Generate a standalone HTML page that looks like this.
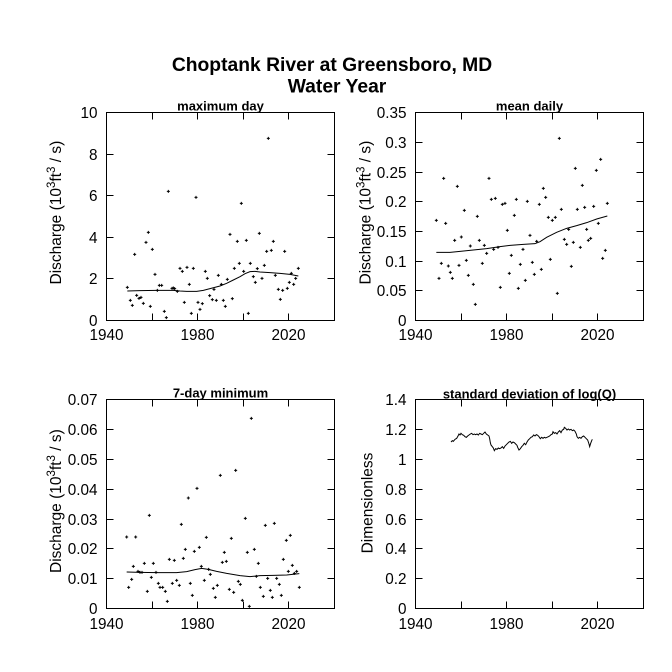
<!DOCTYPE html>
<html><head><meta charset="utf-8"><style>
html,body{margin:0;padding:0;background:#fff;}
svg{display:block;}
text{font-family:"Liberation Sans",Arial,sans-serif;fill:#000;}
.t{font-size:15.3px;}
.yl{font-size:15.5px;}
.b{font-weight:bold;}
.ax{fill:none;stroke:#000;stroke-width:1;}
.pt{fill:none;stroke:#000;stroke-width:1;}
.ln{fill:none;stroke:#000;stroke-width:1;}
</style></head><body>
<svg width="672" height="672" viewBox="0 0 672 672" xmlns="http://www.w3.org/2000/svg">
<rect x="0" y="0" width="672" height="672" fill="#fff"/>

<!-- Title -->
<text x="332" y="71" text-anchor="middle" class="b" font-size="19.3">Choptank River at Greensboro, MD</text>
<text x="337" y="92.7" text-anchor="middle" class="b" font-size="19.3">Water Year</text>

<!-- ===== Panel 1 ===== -->
<text x="220.5" y="110.3" text-anchor="middle" class="b" font-size="13">maximum day</text>
<rect class="ax" x="106.5" y="112.5" width="228" height="208"/>
<path class="ax" d="M152.5 320.5v-7M197.5 320.5v-7M243.5 320.5v-7M288.5 320.5v-7M152.5 112.5v7M197.5 112.5v7M243.5 112.5v7M288.5 112.5v7M106.5 278.5h7M106.5 237.5h7M106.5 195.5h7M106.5 154.5h7M334.5 278.5h-7M334.5 237.5h-7M334.5 195.5h-7M334.5 154.5h-7"/>
<g class="t" text-anchor="end">
<text x="97.5" y="326">0</text><text x="97.5" y="284">2</text><text x="97.5" y="243">4</text><text x="97.5" y="201">6</text><text x="97.5" y="160">8</text><text x="97.5" y="118">10</text>
</g>
<g class="t" text-anchor="middle">
<text x="106.5" y="340">1940</text><text x="197.5" y="340">1980</text><text x="288.5" y="340">2020</text>
</g>
<text class="yl" transform="translate(61,284.5) rotate(-90)">Discharge (10<tspan dy="-6" font-size="11.5">3</tspan><tspan dy="6">ft</tspan><tspan dy="-6" font-size="11.5">3</tspan><tspan dy="6"> / s)</tspan></text>
<g transform="translate(40,90) scale(0.33333)">
<path class="pt" vector-effect="non-scaling-stroke" d="M262 592m-4.5 0h9m-4.5-4.5v9M271 631m-4.5 0h9m-4.5-4.5v9M277 646m-4.5 0h9m-4.5-4.5v9M284 493m-4.5 0h9m-4.5-4.5v9M290 616m-4.5 0h9m-4.5-4.5v9M297 625m-4.5 0h9m-4.5-4.5v9M303 622m-4.5 0h9m-4.5-4.5v9M310 640m-4.5 0h9m-4.5-4.5v9M318 457m-4.5 0h9m-4.5-4.5v9M325 427m-4.5 0h9m-4.5-4.5v9M331 649m-4.5 0h9m-4.5-4.5v9M337 478m-4.5 0h9m-4.5-4.5v9M345 553m-4.5 0h9m-4.5-4.5v9M352 601m-4.5 0h9m-4.5-4.5v9M358 586m-4.5 0h9m-4.5-4.5v9M365 586m-4.5 0h9m-4.5-4.5v9M373 664m-4.5 0h9m-4.5-4.5v9M379 683m-4.5 0h9m-4.5-4.5v9M385 304m-4.5 0h9m-4.5-4.5v9M396 595m-4.5 0h9m-4.5-4.5v9M400 594m-4.5 0h9m-4.5-4.5v9M404 596m-4.5 0h9m-4.5-4.5v9M412 604m-4.5 0h9m-4.5-4.5v9M420 535m-4.5 0h9m-4.5-4.5v9M427 544m-4.5 0h9m-4.5-4.5v9M433 637m-4.5 0h9m-4.5-4.5v9M441 532m-4.5 0h9m-4.5-4.5v9M448 583m-4.5 0h9m-4.5-4.5v9M454 670m-4.5 0h9m-4.5-4.5v9M460 535m-4.5 0h9m-4.5-4.5v9M468 322m-4.5 0h9m-4.5-4.5v9M474 637m-4.5 0h9m-4.5-4.5v9M480 658m-4.5 0h9m-4.5-4.5v9M487 641m-4.5 0h9m-4.5-4.5v9M496 544m-4.5 0h9m-4.5-4.5v9M502 565m-4.5 0h9m-4.5-4.5v9M509 617m-4.5 0h9m-4.5-4.5v9M517 629m-4.5 0h9m-4.5-4.5v9M522 598m-4.5 0h9m-4.5-4.5v9M529 631m-4.5 0h9m-4.5-4.5v9M535 556m-4.5 0h9m-4.5-4.5v9M544 583m-4.5 0h9m-4.5-4.5v9M550 631m-4.5 0h9m-4.5-4.5v9M556 649m-4.5 0h9m-4.5-4.5v9M562 568m-4.5 0h9m-4.5-4.5v9M570 433m-4.5 0h9m-4.5-4.5v9M577 626m-4.5 0h9m-4.5-4.5v9M583 535m-4.5 0h9m-4.5-4.5v9M592 454m-4.5 0h9m-4.5-4.5v9M598 520m-4.5 0h9m-4.5-4.5v9M604 340m-4.5 0h9m-4.5-4.5v9M611 544m-4.5 0h9m-4.5-4.5v9M619 451m-4.5 0h9m-4.5-4.5v9M625 670m-4.5 0h9m-4.5-4.5v9M631 520m-4.5 0h9m-4.5-4.5v9M640 560m-4.5 0h9m-4.5-4.5v9M646 577m-4.5 0h9m-4.5-4.5v9M652 536m-4.5 0h9m-4.5-4.5v9M658 430m-4.5 0h9m-4.5-4.5v9M666 565m-4.5 0h9m-4.5-4.5v9M673 526m-4.5 0h9m-4.5-4.5v9M680 484m-4.5 0h9m-4.5-4.5v9M685 145m-4.5 0h9m-4.5-4.5v9M694 481m-4.5 0h9m-4.5-4.5v9M700 454m-4.5 0h9m-4.5-4.5v9M706 556m-4.5 0h9m-4.5-4.5v9M715 598m-4.5 0h9m-4.5-4.5v9M721 628m-4.5 0h9m-4.5-4.5v9M728 601m-4.5 0h9m-4.5-4.5v9M734 484m-4.5 0h9m-4.5-4.5v9M742 595m-4.5 0h9m-4.5-4.5v9M748 577m-4.5 0h9m-4.5-4.5v9M754 550m-4.5 0h9m-4.5-4.5v9M761 583m-4.5 0h9m-4.5-4.5v9M767 565m-4.5 0h9m-4.5-4.5v9M775 535m-4.5 0h9m-4.5-4.5v9"/>
<polyline class="ln" vector-effect="non-scaling-stroke" points="262,603 300,602 350,601 400,601 420,603 440,604 470,604 490,601 510,596 540,588 560,580 580,570 600,560 615,551 630,545 645,544 660,546 690,548 720,550 750,553 775,558"/>
</g>

<!-- ===== Panel 2 ===== -->
<text x="529.5" y="110.3" text-anchor="middle" class="b" font-size="13">mean daily</text>
<rect class="ax" x="415.5" y="112.5" width="228" height="208"/>
<path class="ax" d="M461.5 320.5v-7M506.5 320.5v-7M552.5 320.5v-7M597.5 320.5v-7M461.5 112.5v7M506.5 112.5v7M552.5 112.5v7M597.5 112.5v7M415.5 290.5h7M415.5 261.5h7M415.5 231.5h7M415.5 201.5h7M415.5 172.5h7M415.5 142.5h7M643.5 290.5h-7M643.5 261.5h-7M643.5 231.5h-7M643.5 201.5h-7M643.5 172.5h-7M643.5 142.5h-7"/>
<g class="t" text-anchor="end">
<text x="406.5" y="326">0</text><text x="406.5" y="296">0.05</text><text x="406.5" y="267">0.1</text><text x="406.5" y="237">0.15</text><text x="406.5" y="207">0.2</text><text x="406.5" y="178">0.25</text><text x="406.5" y="148">0.3</text><text x="406.5" y="118">0.35</text>
</g>
<g class="t" text-anchor="middle">
<text x="415.5" y="340">1940</text><text x="506.5" y="340">1980</text><text x="597.5" y="340">2020</text>
</g>
<text class="yl" transform="translate(370.5,284.5) rotate(-90)">Discharge (10<tspan dy="-6" font-size="11.5">3</tspan><tspan dy="6">ft</tspan><tspan dy="-6" font-size="11.5">3</tspan><tspan dy="6"> / s)</tspan></text>
<g transform="translate(340,90) scale(0.33333)">
<path class="pt" vector-effect="non-scaling-stroke" d="M289 391m-4.5 0h9m-4.5-4.5v9M297 565m-4.5 0h9m-4.5-4.5v9M304 520m-4.5 0h9m-4.5-4.5v9M311 265m-4.5 0h9m-4.5-4.5v9M317 400m-4.5 0h9m-4.5-4.5v9M325 528m-4.5 0h9m-4.5-4.5v9M331 547m-4.5 0h9m-4.5-4.5v9M337 565m-4.5 0h9m-4.5-4.5v9M344 451m-4.5 0h9m-4.5-4.5v9M352 289m-4.5 0h9m-4.5-4.5v9M357 526m-4.5 0h9m-4.5-4.5v9M364 441m-4.5 0h9m-4.5-4.5v9M373 361m-4.5 0h9m-4.5-4.5v9M379 511m-4.5 0h9m-4.5-4.5v9M385 556m-4.5 0h9m-4.5-4.5v9M391 468m-4.5 0h9m-4.5-4.5v9M400 583m-4.5 0h9m-4.5-4.5v9M406 643m-4.5 0h9m-4.5-4.5v9M412 379m-4.5 0h9m-4.5-4.5v9M418 451m-4.5 0h9m-4.5-4.5v9M427 520m-4.5 0h9m-4.5-4.5v9M433 466m-4.5 0h9m-4.5-4.5v9M440 490m-4.5 0h9m-4.5-4.5v9M447 265m-4.5 0h9m-4.5-4.5v9M454 328m-4.5 0h9m-4.5-4.5v9M461 478m-4.5 0h9m-4.5-4.5v9M466 325m-4.5 0h9m-4.5-4.5v9M474 472m-4.5 0h9m-4.5-4.5v9M481 592m-4.5 0h9m-4.5-4.5v9M487 343m-4.5 0h9m-4.5-4.5v9M495 340m-4.5 0h9m-4.5-4.5v9M502 421m-4.5 0h9m-4.5-4.5v9M508 550m-4.5 0h9m-4.5-4.5v9M514 496m-4.5 0h9m-4.5-4.5v9M523 376m-4.5 0h9m-4.5-4.5v9M529 328m-4.5 0h9m-4.5-4.5v9M535 595m-4.5 0h9m-4.5-4.5v9M541 523m-4.5 0h9m-4.5-4.5v9M549 478m-4.5 0h9m-4.5-4.5v9M556 571m-4.5 0h9m-4.5-4.5v9M562 334m-4.5 0h9m-4.5-4.5v9M570 436m-4.5 0h9m-4.5-4.5v9M577 517m-4.5 0h9m-4.5-4.5v9M583 553m-4.5 0h9m-4.5-4.5v9M590 454m-4.5 0h9m-4.5-4.5v9M598 343m-4.5 0h9m-4.5-4.5v9M604 538m-4.5 0h9m-4.5-4.5v9M610 295m-4.5 0h9m-4.5-4.5v9M617 322m-4.5 0h9m-4.5-4.5v9M625 382m-4.5 0h9m-4.5-4.5v9M631 508m-4.5 0h9m-4.5-4.5v9M637 391m-4.5 0h9m-4.5-4.5v9M646 382m-4.5 0h9m-4.5-4.5v9M652 610m-4.5 0h9m-4.5-4.5v9M658 145m-4.5 0h9m-4.5-4.5v9M664 358m-4.5 0h9m-4.5-4.5v9M673 448m-4.5 0h9m-4.5-4.5v9M680 463m-4.5 0h9m-4.5-4.5v9M686 418m-4.5 0h9m-4.5-4.5v9M694 529m-4.5 0h9m-4.5-4.5v9M700 457m-4.5 0h9m-4.5-4.5v9M706 235m-4.5 0h9m-4.5-4.5v9M712 358m-4.5 0h9m-4.5-4.5v9M721 472m-4.5 0h9m-4.5-4.5v9M727 286m-4.5 0h9m-4.5-4.5v9M734 352m-4.5 0h9m-4.5-4.5v9M740 418m-4.5 0h9m-4.5-4.5v9M745 451m-4.5 0h9m-4.5-4.5v9M752 445m-4.5 0h9m-4.5-4.5v9M761 349m-4.5 0h9m-4.5-4.5v9M769 241m-4.5 0h9m-4.5-4.5v9M775 400m-4.5 0h9m-4.5-4.5v9M782 208m-4.5 0h9m-4.5-4.5v9M788 505m-4.5 0h9m-4.5-4.5v9M796 481m-4.5 0h9m-4.5-4.5v9M802 340m-4.5 0h9m-4.5-4.5v9"/>
<polyline class="ln" vector-effect="non-scaling-stroke" points="289,487 330,487 360,484 400,480 440,476 480,470 510,466 550,463 585,461 600,455 620,442 650,427 680,415 710,407 740,398 770,387 802,378"/>
</g>

<!-- ===== Panel 3 ===== -->
<text x="220.5" y="397.3" text-anchor="middle" class="b" font-size="13">7-day minimum</text>
<rect class="ax" x="106.5" y="399.5" width="228" height="209"/>
<path class="ax" d="M152.5 608.5v-7M197.5 608.5v-7M243.5 608.5v-7M288.5 608.5v-7M152.5 399.5v7M197.5 399.5v7M243.5 399.5v7M288.5 399.5v7M106.5 578.5h7M106.5 548.5h7M106.5 519.5h7M106.5 489.5h7M106.5 459.5h7M106.5 429.5h7M334.5 578.5h-7M334.5 548.5h-7M334.5 519.5h-7M334.5 489.5h-7M334.5 459.5h-7M334.5 429.5h-7"/>
<g class="t" text-anchor="end">
<text x="97.5" y="614">0</text><text x="97.5" y="584">0.01</text><text x="97.5" y="554">0.02</text><text x="97.5" y="525">0.03</text><text x="97.5" y="495">0.04</text><text x="97.5" y="465">0.05</text><text x="97.5" y="435">0.06</text><text x="97.5" y="405">0.07</text>
</g>
<g class="t" text-anchor="middle">
<text x="106.5" y="629">1940</text><text x="197.5" y="629">1980</text><text x="288.5" y="629">2020</text>
</g>
<text class="yl" transform="translate(61,573) rotate(-90)">Discharge (10<tspan dy="-6" font-size="11.5">3</tspan><tspan dy="6">ft</tspan><tspan dy="-6" font-size="11.5">3</tspan><tspan dy="6"> / s)</tspan></text>
<g transform="translate(40,380) scale(0.33333)">
<path class="pt" vector-effect="non-scaling-stroke" d="M260 471m-4.5 0h9m-4.5-4.5v9M266 622m-4.5 0h9m-4.5-4.5v9M275 598m-4.5 0h9m-4.5-4.5v9M280 559m-4.5 0h9m-4.5-4.5v9M287 471m-4.5 0h9m-4.5-4.5v9M294 574m-4.5 0h9m-4.5-4.5v9M300 577m-4.5 0h9m-4.5-4.5v9M306 577m-4.5 0h9m-4.5-4.5v9M313 550m-4.5 0h9m-4.5-4.5v9M322 634m-4.5 0h9m-4.5-4.5v9M328 406m-4.5 0h9m-4.5-4.5v9M334 592m-4.5 0h9m-4.5-4.5v9M340 550m-4.5 0h9m-4.5-4.5v9M348 577m-4.5 0h9m-4.5-4.5v9M355 610m-4.5 0h9m-4.5-4.5v9M360 622m-4.5 0h9m-4.5-4.5v9M368 622m-4.5 0h9m-4.5-4.5v9M376 634m-4.5 0h9m-4.5-4.5v9M382 664m-4.5 0h9m-4.5-4.5v9M388 538m-4.5 0h9m-4.5-4.5v9M397 610m-4.5 0h9m-4.5-4.5v9M403 541m-4.5 0h9m-4.5-4.5v9M410 601m-4.5 0h9m-4.5-4.5v9M418 616m-4.5 0h9m-4.5-4.5v9M424 433m-4.5 0h9m-4.5-4.5v9M430 535m-4.5 0h9m-4.5-4.5v9M436 508m-4.5 0h9m-4.5-4.5v9M445 354m-4.5 0h9m-4.5-4.5v9M451 610m-4.5 0h9m-4.5-4.5v9M457 646m-4.5 0h9m-4.5-4.5v9M463 514m-4.5 0h9m-4.5-4.5v9M471 325m-4.5 0h9m-4.5-4.5v9M478 502m-4.5 0h9m-4.5-4.5v9M484 559m-4.5 0h9m-4.5-4.5v9M493 601m-4.5 0h9m-4.5-4.5v9M499 472m-4.5 0h9m-4.5-4.5v9M506 568m-4.5 0h9m-4.5-4.5v9M511 583m-4.5 0h9m-4.5-4.5v9M520 625m-4.5 0h9m-4.5-4.5v9M526 652m-4.5 0h9m-4.5-4.5v9M532 616m-4.5 0h9m-4.5-4.5v9M541 286m-4.5 0h9m-4.5-4.5v9M547 547m-4.5 0h9m-4.5-4.5v9M553 517m-4.5 0h9m-4.5-4.5v9M559 544m-4.5 0h9m-4.5-4.5v9M568 628m-4.5 0h9m-4.5-4.5v9M574 475m-4.5 0h9m-4.5-4.5v9M581 637m-4.5 0h9m-4.5-4.5v9M587 271m-4.5 0h9m-4.5-4.5v9M595 604m-4.5 0h9m-4.5-4.5v9M601 613m-4.5 0h9m-4.5-4.5v9M607 661m-4.5 0h9m-4.5-4.5v9M616 415m-4.5 0h9m-4.5-4.5v9M622 517m-4.5 0h9m-4.5-4.5v9M628 679m-4.5 0h9m-4.5-4.5v9M634 115m-4.5 0h9m-4.5-4.5v9M643 508m-4.5 0h9m-4.5-4.5v9M649 589m-4.5 0h9m-4.5-4.5v9M655 550m-4.5 0h9m-4.5-4.5v9M661 622m-4.5 0h9m-4.5-4.5v9M670 649m-4.5 0h9m-4.5-4.5v9M676 436m-4.5 0h9m-4.5-4.5v9M683 595m-4.5 0h9m-4.5-4.5v9M691 631m-4.5 0h9m-4.5-4.5v9M697 652m-4.5 0h9m-4.5-4.5v9M703 430m-4.5 0h9m-4.5-4.5v9M710 595m-4.5 0h9m-4.5-4.5v9M718 613m-4.5 0h9m-4.5-4.5v9M724 646m-4.5 0h9m-4.5-4.5v9M730 538m-4.5 0h9m-4.5-4.5v9M739 481m-4.5 0h9m-4.5-4.5v9M745 574m-4.5 0h9m-4.5-4.5v9M751 466m-4.5 0h9m-4.5-4.5v9M757 556m-4.5 0h9m-4.5-4.5v9M763 580m-4.5 0h9m-4.5-4.5v9M770 574m-4.5 0h9m-4.5-4.5v9M778 622m-4.5 0h9m-4.5-4.5v9"/>
<polyline class="ln" vector-effect="non-scaling-stroke" points="260,576 300,577 350,578 410,578 440,575 465,569 485,565 505,568 530,574 560,580 600,587 630,590 660,587 700,586 740,585 778,581"/>
</g>

<!-- ===== Panel 4 ===== -->
<text x="529.5" y="398.3" text-anchor="middle" class="b" font-size="13">standard deviation of log(Q)</text>
<rect class="ax" x="415.5" y="399.5" width="228" height="209"/>
<path class="ax" d="M461.5 608.5v-7M506.5 608.5v-7M552.5 608.5v-7M597.5 608.5v-7M461.5 399.5v7M506.5 399.5v7M552.5 399.5v7M597.5 399.5v7M415.5 578.5h7M415.5 548.5h7M415.5 519.5h7M415.5 489.5h7M415.5 459.5h7M415.5 429.5h7M643.5 578.5h-7M643.5 548.5h-7M643.5 519.5h-7M643.5 489.5h-7M643.5 459.5h-7M643.5 429.5h-7"/>
<g class="t" text-anchor="end">
<text x="406.5" y="614">0</text><text x="406.5" y="584">0.2</text><text x="406.5" y="554">0.4</text><text x="406.5" y="525">0.6</text><text x="406.5" y="495">0.8</text><text x="406.5" y="465">1</text><text x="406.5" y="435">1.2</text><text x="406.5" y="405">1.4</text>
</g>
<g class="t" text-anchor="middle">
<text x="415.5" y="629">1940</text><text x="506.5" y="629">1980</text><text x="597.5" y="629">2020</text>
</g>
<text class="yl" text-anchor="middle" transform="translate(372.5,503) rotate(-90)">Dimensionless</text>
<g transform="translate(445,420) scale(0.33333)">
<polyline class="ln" vector-effect="non-scaling-stroke" points="18,66 22,62 25,64 30,58 35,55 38,50 42,42 45,45 48,40 52,44 56,46 60,50 64,52 68,48 72,45 76,42 80,40 84,44 88,42 92,44 96,42 100,45 104,40 108,42 112,44 116,40 120,36 124,42 128,45 132,48 134,56 136,68 138,75 142,80 145,84 148,92 152,86 156,88 160,84 164,86 168,84 172,80 176,85 180,78 184,74 188,70 192,66 196,64 200,70 204,66 208,68 212,72 216,76 218,82 222,90 226,86 230,80 234,76 238,70 242,74 246,66 250,60 254,56 258,52 262,50 266,45 270,48 274,44 278,46 282,50 286,56 290,52 294,55 298,52 302,54 306,52 310,50 314,48 318,44 322,42 324,35 328,40 332,38 336,42 340,36 344,32 348,38 352,30 356,28 358,22 362,25 366,30 370,27 374,30 378,28 382,32 386,30 390,34 394,42 396,50 400,55 404,52 408,55 412,50 416,48 420,52 424,56 428,60 432,72 434,80 437,70 440,62 442,58"/>
</g>
</svg>
</body></html>
